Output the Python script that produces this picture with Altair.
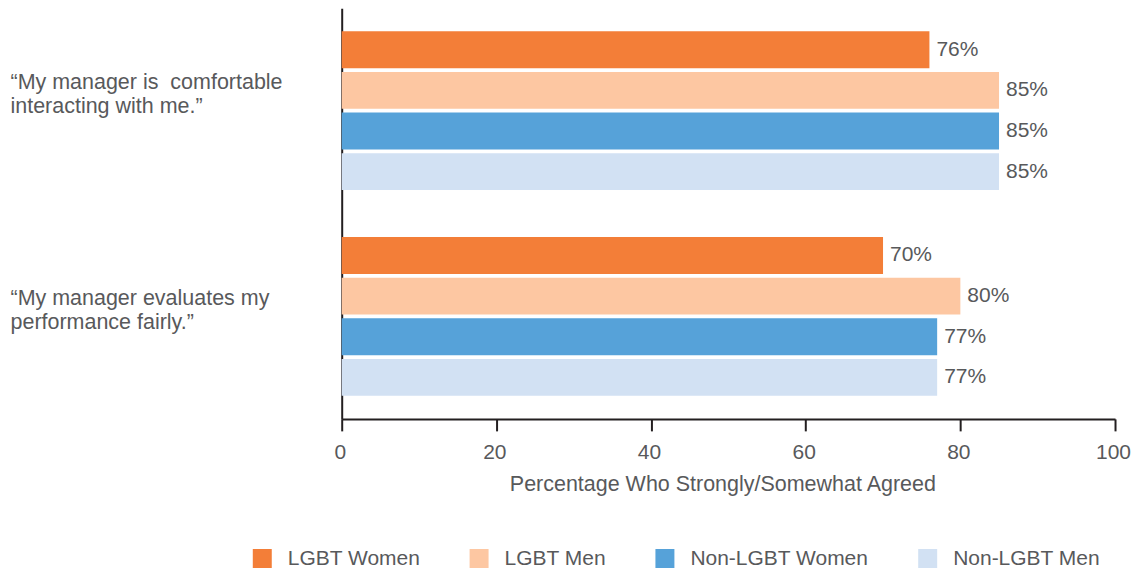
import altair as alt
import pandas as pd

statements = ["“My manager is\u00a0 comfortable|interacting with me.”",
              "“My manager evaluates my|performance fairly.”"]
series = ["LGBT Women", "LGBT Men", "Non-LGBT Women", "Non-LGBT Men"]
comfortable = [76, 85, 85, 85]
fairly = [70, 80, 77, 77]
colors = ["#F37E38", "#FDC7A2", "#56A2D9", "#D2E1F3"]

rows = []
for stmt, vals in zip(statements, [comfortable, fairly]):
    for s, v in zip(series, vals):
        rows.append({"statement": stmt, "group": s, "value": v, "label": f"{v}%"})
df = pd.DataFrame(rows)

FONT = "Liberation Sans"
GRAY = "#58595B"
DARK = "#231F20"

y_enc = alt.Y("statement:N", sort=statements,
              scale=alt.Scale(paddingInner=0.228, paddingOuter=0.112),
              axis=alt.Axis(title=None, labelAlign="left", labelBaseline="middle",
                            labelPadding=332, tickSize=0, ticks=False,
                            labelExpr="split(datum.label, '|')",
                            labelFontSize=21.5, labelLineHeight=24, labelColor=GRAY,
                            labelFont=FONT, labelLimit=400,
                            labelOffset={"condition": {"test": "indexof(datum.value, 'comfortable') >= 0", "value": -28},
                                         "value": -17},
                            domainColor=DARK, domainWidth=2))
yoff = alt.YOffset("group:N", sort=series, scale=alt.Scale(paddingInner=0.09, paddingOuter=0))

bars = alt.Chart(df).mark_bar().encode(
    x=alt.X("value:Q", scale=alt.Scale(domain=[0, 100], nice=False),
            axis=alt.Axis(values=[0, 20, 40, 60, 80, 100], title="Percentage Who Strongly/Somewhat Agreed",
                          grid=False, tickSize=12, tickWidth=2, tickColor=DARK,
                          domainColor=DARK, domainWidth=2, labelPadding=11,
                          labelFlush=False, labelOffset=-2,
                          labelFontSize=21, labelColor=GRAY, labelFont=FONT,
                          titleFontSize=21.5, titleFontWeight="normal", titleColor=GRAY,
                          titleFont=FONT, titlePadding=11, titleX=381)),
    y=y_enc,
    yOffset=yoff,
    color=alt.Color("group:N", sort=series,
                    scale=alt.Scale(domain=series, range=colors),
                    legend=alt.Legend(title=None, orient="none", direction="horizontal",
                                      columns=4, legendX=-90, legendY=540,
                                      symbolType="square", symbolSize=361,
                                      symbolStrokeWidth=0, labelOffset=15,
                                      columnPadding=48, labelFontSize=21,
                                      labelColor=GRAY, labelFont=FONT,
                                      labelLimit=300)),
)

text = alt.Chart(df).mark_text(align="left", baseline="middle", dx=7,
                               fontSize=21, color=GRAY, font=FONT).encode(
    x=alt.X("value:Q"),
    y=alt.Y("statement:N", sort=statements),
    yOffset=alt.YOffset("group:N", sort=series),
    text="label:N",
)

chart = (bars + text).properties(
    width=774, height=411,
    padding={"left": 334, "top": 0, "right": 20, "bottom": 150},
    autosize=alt.AutoSizeParams(type="none"),
).configure_view(stroke=None)

chart.save("out.html", embed_options={"renderer": "svg", "actions": False})
